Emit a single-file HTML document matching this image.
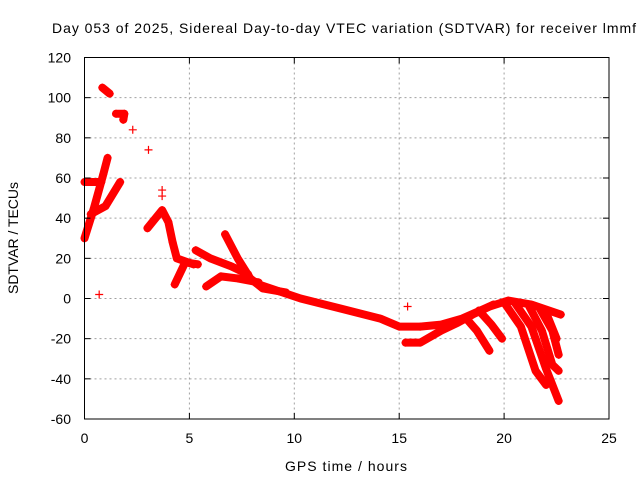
<!DOCTYPE html>
<html><head><meta charset="utf-8"><style>
body{margin:0;background:#fff}
svg text{font-family:"Liberation Sans",sans-serif;font-size:14px;fill:#000}
</style></head><body>
<svg id="chart" width="640" height="480" xmlns="http://www.w3.org/2000/svg">
<text x="52" y="33" textLength="584" lengthAdjust="spacing">Day 053 of 2025, Sidereal Day-to-day VTEC variation (SDTVAR) for receiver lmmf</text>
<g id="grid"></g>
<g id="series"></g>
<rect x="84.5" y="57.5" width="524.5" height="361.5" fill="none" stroke="#000" stroke-width="1"/>
<g id="ticks"></g>
<text x="346" y="471" text-anchor="middle" textLength="122">GPS time / hours</text>
<text x="0" y="0" text-anchor="middle" textLength="112" transform="translate(18,238) rotate(-90)">SDTVAR / TECUs</text>
</svg>
<script>
const xTicks=[0,5,10,15,20,25];
const yTicks=[-60,-40,-20,0,20,40,60,80,100,120];
const tracks=[
[[0,30],[0.45,45],[0.9,62],[1.1,70]],
[[0.3,42],[1.0,46],[1.7,58]],
[[0,58],[0.8,58]],
[[0.85,105],[1.2,102]],
[[1.5,92],[1.9,92],[1.85,89]],
[[3.0,35],[3.7,44],[4.0,38],[4.2,28],[4.4,20],[5.2,17]],
[[4.3,7],[4.8,18],[5.4,17]],
[[5.3,24],[6.0,20],[7.0,16],[7.8,12]],
[[5.8,6],[6.5,11],[7.3,10],[8.3,8]],
[[6.7,32],[7.3,20],[7.9,10],[8.5,5],[9.6,3]],
[[8.3,7],[10.3,0],[12.2,-5],[14.1,-10],[15,-14],[16,-14],[17,-13],[18,-10],[19.3,-4],[20.2,-1],[21.3,-3],[22.7,-8]],
[[15.3,-22],[16,-22],[17,-16],[17.8,-12],[18.5,-8],[19.5,-3]],
[[18.2,-10],[18.7,-16],[19.3,-26]],
[[18.8,-6],[19.4,-13],[19.9,-20]],
[[20.0,-2],[20.8,-14],[21.5,-36],[22,-43]],
[[20.5,-2],[21.3,-14],[22.0,-35],[22.6,-51]],
[[21.2,-4],[21.8,-16],[22.3,-33],[22.6,-36]],
[[21.7,-5],[22.3,-16],[22.6,-28]],
[[22.0,-7],[22.5,-20]]
];
const singles=[[2.3,84],[3.05,74],[0.7,2],[3.7,54],[3.7,51],[15.4,-4]];
const NS="http://www.w3.org/2000/svg";
const X0=84.5,X1=609,Y0=419,Y1=57.5;
function sx(v){return X0+(v-0)/(25-0)*(X1-X0);}
function sy(v){return Y0-(v+60)/180*(Y0-Y1);}
function mk(t,a,p){const e=document.createElementNS(NS,t);for(const k in a)e.setAttribute(k,a[k]);p.appendChild(e);return e;}
const grid=document.getElementById('grid'),ticks=document.getElementById('ticks'),ser=document.getElementById('series');
xTicks.forEach(t=>{const x=sx(t);
 if(t>0&&t<25){const l=mk('line',{x1:x,x2:x,y1:Y1,y2:Y0,stroke:'#a0a0a0','stroke-dasharray':'2,3'},grid);
 
 }
 const a=mk('line',{x1:x,x2:x,y1:Y0,y2:Y0-6,stroke:'#000'},ticks);
 
 
 const b=mk('line',{x1:x,x2:x,y1:Y1,y2:Y1+6,stroke:'#000'},ticks);
 
 
 const tx=mk('text',{x:x,y:443,'text-anchor':'middle'},ticks);tx.textContent=t;
 
 
});
yTicks.forEach(t=>{const y=sy(t);
 if(t>-60&&t<120){const l=mk('line',{x1:X0,x2:X1,y1:y,y2:y,stroke:'#a0a0a0','stroke-dasharray':'2,3'},grid);
 
 }
 const a=mk('line',{x1:X0,x2:X0+6,y1:y,y2:y,stroke:'#000'},ticks);
 
 
 const b=mk('line',{x1:X1,x2:X1-6,y1:y,y2:y,stroke:'#000'},ticks);
 
 
 const tx=mk('text',{x:71,y:y+5,'text-anchor':'end'},ticks);tx.textContent=t;
 
 
});
function plus(x,y){const p=mk('path',{d:`M${x-4},${y}h8M${x},${y-4}v8`,stroke:'#f00','stroke-width':1.2,fill:'none'},ser);
 
 }
tracks.forEach(tr=>{
 const pl=mk('polyline',{points:tr.map(p=>sx(p[0])+','+sy(p[1])).join(' '),fill:'none',stroke:'#f00','stroke-width':8,'stroke-linejoin':'round','stroke-linecap':'round'},ser);
 
 
 tr.forEach(p=>plus(sx(p[0]),sy(p[1])));
});
singles.forEach(p=>plus(sx(p[0]),sy(p[1])));
</script>
</body></html>
